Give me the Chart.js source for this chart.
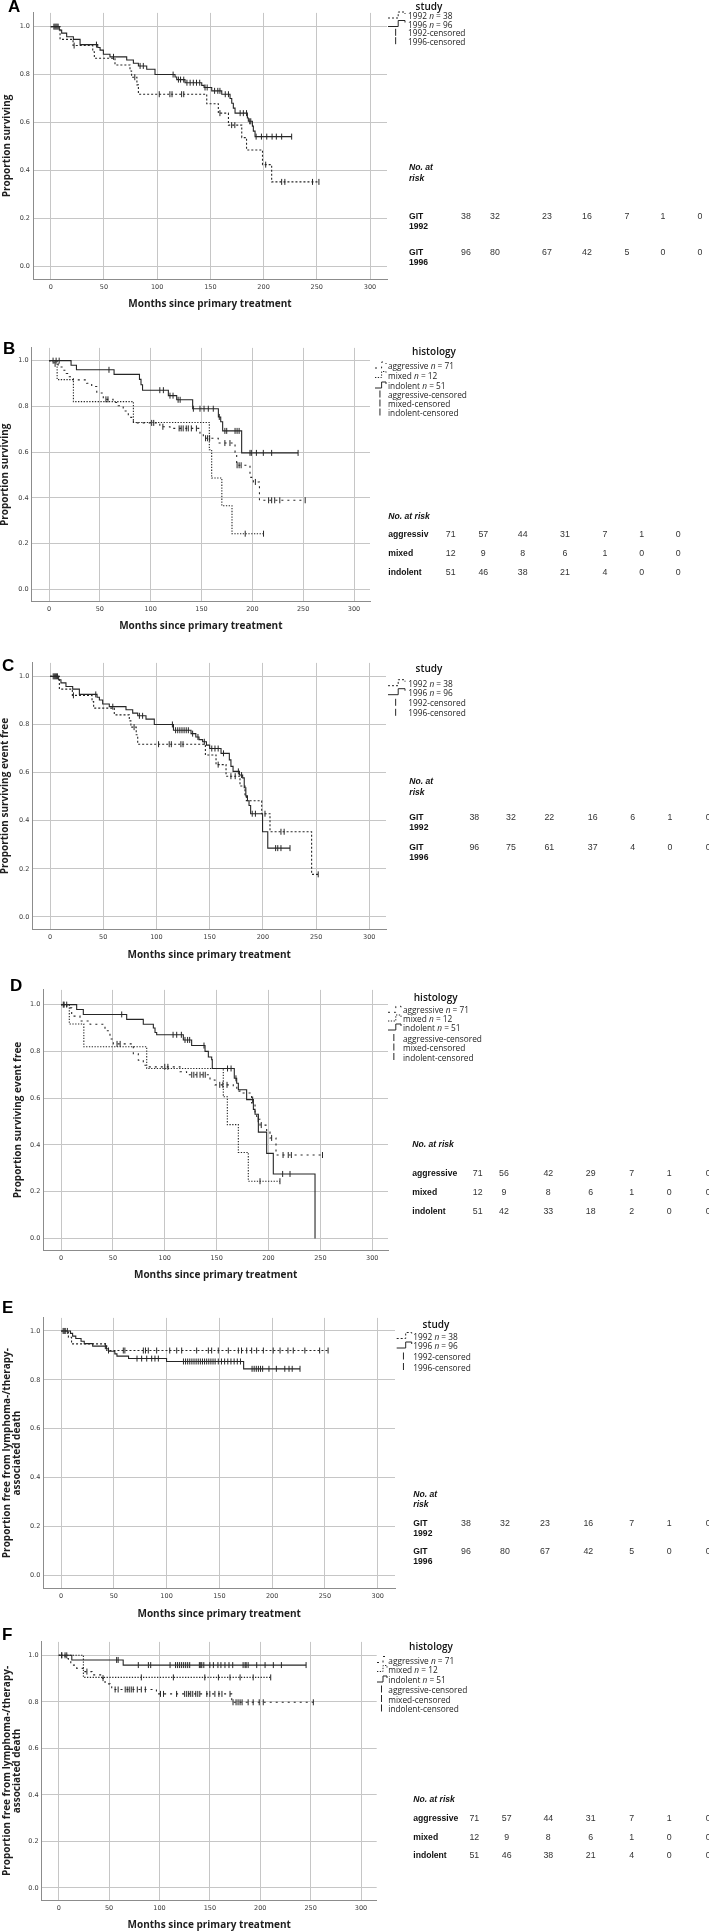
<!DOCTYPE html>
<html><head><meta charset="utf-8">
<script src="https://cdn.jsdelivr.net/npm/chart.js@4.4.1/dist/chart.umd.min.js"></script>
<style>
html,body{margin:0;padding:0;background:#fff}
body{width:709px;height:1931px;position:relative;overflow:hidden}
canvas{position:absolute;left:0}
.t{position:absolute;white-space:nowrap;line-height:1;transform:translateY(-50%);color:#1a1a1a}
</style></head><body>
<script>
// ---------------- DATA ----------------
const monthTicks=[0,50,100,150,200,250,300];
const propTicks=[0,0.2,0.4,0.6,0.8,1.0];

// A: overall survival by study
const A_1992_t=[8.8,21,39.5,41,60.4,74.5,76,81,82.4,146.6,157.5,167,179.5,184,199,207.6];
const A_1992_s=[0.947,0.921,0.895,0.868,0.84,0.815,0.789,0.757,0.718,0.678,0.639,0.589,0.537,0.485,0.424,0.352];
const A_1992_c=[4,6,22,79,102,112,114,123,125,159,170,173,202,217,220,246,252];
const A_1996_t=[8.1,10.3,15,21.3,27.6,44.2,46.4,49.5,55.7,71.4,77.7,82.4,90.2,98,116.8,118.4,126.2,141.9,144.1,151.3,160.7,168.5,170.1,171.6,173.2,184.8,185.7,189.5,190.4,192];
const A_1996_s=[0.986,0.973,0.958,0.947,0.925,0.913,0.902,0.885,0.874,0.861,0.847,0.836,0.822,0.80,0.79,0.779,0.766,0.755,0.746,0.732,0.718,0.70,0.68,0.66,0.639,0.619,0.605,0.585,0.564,0.541];
const A_1996_c=[3,5,7,43,59,84,87,115,120,122,125,128,131,134,137,140,145,147,154,157,159,164,167,178,181,184,187,188,193,198,203,208,212,217,226.4];
const A_risk_1992=[38,32,23,16,7,1,0];
const A_risk_1996=[96,80,67,42,5,0,0];

// B: overall survival by histology
const B_agg_t=[5,9,14,17,20,24,37,42,47,53.4,63,68,73,78,83,109,119,148.5,151.8,166.5,183,184.6,197.7,201,207];
const B_agg_s=[0.986,0.972,0.958,0.944,0.93,0.916,0.901,0.887,0.859,0.831,0.817,0.803,0.78,0.752,0.728,0.711,0.704,0.683,0.661,0.64,0.60,0.543,0.49,0.47,0.39];
const B_agg_c=[6,56,58,101,103,112,128,130,132,135,137,140,145,154,156,158,173,178,185,187,189,203,216,219,222,227,252];
const B_mix_t=[8,24,83,157.7,160,170,180];
const B_mix_s=[0.917,0.821,0.73,0.611,0.487,0.366,0.244];
const B_mix_c=[193,211];
const B_ind_t=[21.7,27,64,89,90.5,92,117.4,125.6,141.3,166.6,168.9,170.8,189.5];
const B_ind_s=[0.98,0.96,0.94,0.918,0.895,0.871,0.847,0.829,0.79,0.754,0.733,0.693,0.597];
const B_ind_c=[4,7,10,59,109,112.5,119,122,127,129,142,148.5,152.5,156.7,161.6,167.5,173,174.8,183,185,187,197.7,199,204,210.8,219,245];
const B_risk_agg=[71,57,44,31,7,1,0];
const B_risk_mix=[12,9,8,6,1,0,0];
const B_risk_ind=[51,46,38,21,4,0,0];

// C: event-free survival by study
const C_1992_t=[8.8,21,39.5,41,60.4,74.5,76,81,82.4,146,156,165.4,178.5,183.2,184.5,198.9,206.7,245.8];
const C_1992_s=[0.947,0.921,0.895,0.868,0.84,0.815,0.789,0.757,0.718,0.673,0.633,0.585,0.544,0.503,0.483,0.429,0.354,0.177];
const C_1992_c=[4,6,22,79,102,112,114,123,125,158,170,174,202,217,220,252];
const C_1996_t=[8.1,10.3,15,21.3,27.6,44.2,46.4,49.5,55.7,71.4,77.7,82.4,90.2,98,116,132.5,137,140,143.4,147,150,160.7,168.5,170,172,178,181,182.5,184,185.5,187,188.5,199.7,204.6];
const C_1996_s=[0.986,0.973,0.958,0.947,0.925,0.913,0.902,0.885,0.874,0.861,0.847,0.836,0.822,0.80,0.776,0.762,0.748,0.737,0.728,0.714,0.70,0.68,0.653,0.626,0.605,0.59,0.578,0.537,0.503,0.483,0.463,0.429,0.354,0.286];
const C_1996_c=[3,5,7,43,59,84,87,115,118,120,122,124,126,128,130,134,139,145,152,155,158,163,177,180,190,193,212,214,217,225.5];
const C_risk_1992=[38,32,22,16,6,1,0];
const C_risk_1996=[96,75,61,37,4,0,0];

// D: event-free survival by histology
const D_agg_t=[5.5,10.3,18.3,28,42.4,47.2,50.4,69.7,74.5,79.3,82.6,114.7,121,143.6,148.4,166,169.4,172.6,183.7,187,188.6,191.8,198.2,201.4,207.2];
const D_agg_s=[0.986,0.951,0.93,0.916,0.888,0.853,0.832,0.79,0.762,0.741,0.734,0.713,0.70,0.678,0.657,0.65,0.63,0.622,0.58,0.538,0.51,0.485,0.455,0.43,0.357];
const D_agg_c=[3,54,57,100,103,126,128,131,134,137,139,153,156,160,190,193,203,214,219,222,252];
const D_mix_t=[8,22,82.6,156.4,160.3,170.9,180.5];
const D_mix_s=[0.917,0.82,0.727,0.606,0.487,0.368,0.245];
const D_mix_c=[191.8,211];
const D_ind_t=[15.1,21.5,63.3,79.3,89,90.6,92.2,117.9,125.9,138.8,142,145.2,145.8,167,169.3,170.9,178.9,185.4,187,190.2,198.2,204.6,244.8];
const D_ind_s=[0.979,0.958,0.937,0.916,0.9,0.881,0.871,0.849,0.825,0.80,0.776,0.765,0.727,0.685,0.664,0.636,0.594,0.552,0.531,0.455,0.364,0.276,0];
const D_ind_c=[2.2,5.5,58.5,108,111.5,116,119.5,122,124,137.8,160.5,163.9,168.6,184.7,213.6,220.7];
const D_risk_agg=[71,56,42,29,7,1,0];
const D_risk_mix=[12,9,8,6,1,0,0];
const D_risk_ind=[51,42,33,18,2,0,0];

// E: freedom from lymphoma-/therapy-associated death by study
const E_1992_t=[7,10,43.3];
const E_1992_s=[0.974,0.947,0.92];
const E_1992_c=[3,45,59,60.5,78,80,82.7,90.6,103,109.6,114.3,128.5,139.6,142.7,149,158.5,168,171,175.9,180.6,185.3,191.7,201,207.5,215,220,231,245,253];
const E_1996_t=[9,11,14,19,22,30,43,45,51,53,64,100,173];
const E_1996_s=[0.99,0.979,0.969,0.958,0.948,0.938,0.927,0.917,0.906,0.897,0.887,0.875,0.845];
const E_1996_c=[2,4,6,42,72,76.4,81.2,85.9,89,92.2,116,118,120,122,124,126,128,130,132,134,136,138,140,142,144,146,149,152,155,158,161,164,167,170,181,183,185,187,189,191,197,204,212,216,219,226.4];
const E_risk_1992=[38,32,23,16,7,1,0];
const E_risk_1996=[96,80,67,42,5,0,0];

// F: freedom from lymphoma-/therapy-associated death by histology
const F_agg_t=[6.3,9.6,12,17.9,26,33,42.7,46,51,52.6,97,171.7];
const F_agg_s=[0.986,0.972,0.958,0.944,0.93,0.916,0.902,0.877,0.865,0.853,0.834,0.798];
const F_agg_c=[3,28,44,56,59,66,68,70,72,74,78,82,86,101,104,117,125,127,129,131,133,136,138,140,147,150,155,159,162,170,173,176,178,180,182,188,193,199,203,252.7];
const F_mix_t=[24.5];
const F_mix_s=[0.905];
const F_mix_c=[8,82,113.8,145,158.5,170,180,193,210.4];
const F_ind_t=[13,64];
const F_ind_s=[0.98,0.958];
const F_ind_c=[3,6.3,57.5,59,79,89,91.3,110.5,116,118,120,122,124,126,128,130,139.6,141,142,144,150,153.5,158,161,165,169,172.7,183,185,186,188,196.5,204.8,213,221,245.5];
const F_risk_agg=[71,57,44,31,7,1,0];
const F_risk_mix=[12,9,8,6,1,0,0];
const F_risk_ind=[51,46,38,21,4,0,0];

// ---------------- STYLE / LAYOUT ----------------
const INK='#262626';
const DASH={dot:[2,2],sparse:[2,4],dense:[1.3,1.5],solid:[]};
const studyLegend=['1992 <i>n</i> = 38','1996 <i>n</i> = 96','1992-censored','1996-censored'];
const histLegend=['aggressive <i>n</i> = 71','mixed <i>n</i> = 12','indolent <i>n</i> = 51','aggressive-censored','mixed-censored','indolent-censored'];

const panels=[
 {letter:'A',lp:[8,6.5],g:{gridTop:8,axisBottom:279,left:33,right:387,x0:50.7,x300:370,y1:22,y0:266,titleY:304,ytX:7},
  ytitle:'Proportion surviving',
  series:[{t:A_1992_t,s:A_1992_s,c:A_1992_c,d:'dot'},{t:A_1996_t,s:A_1996_s,c:A_1996_c,d:'solid'}],
  legend:{head:'study',hx:429,hy:6,items:studyLegend,styles:['dot','solid','cens','cens'],ys:[15,23.5,32.3,40.7],sx:388,sw:17,tx:408},
  table:{head:['No. at','risk'],hx:409,hy:[167,178],rowLab:['GIT<br>1992','GIT<br>1996'],rows:[A_risk_1992,A_risk_1996],ry:[216,252],cols:[466,495,547,587,627,663,700]}},
 {letter:'B',lp:[3,348.5],g:{gridTop:343,axisBottom:601.7,left:31.7,right:370,x0:49,x300:354,y1:356,y0:589.3,titleY:626,ytX:5},
  ytitle:'Proportion surviving',
  series:[{t:B_agg_t,s:B_agg_s,c:B_agg_c,d:'sparse'},{t:B_mix_t,s:B_mix_s,c:B_mix_c,d:'dense'},{t:B_ind_t,s:B_ind_s,c:B_ind_c,d:'solid'}],
  legend:{head:'histology',hx:434,hy:351,items:histLegend,styles:['sparse','dense','solid','cens','cens','cens'],ys:[365,374.5,385,394,403,412],sx:375,sw:11,tx:388},
  table:{head:['No. at risk'],hx:388.3,hy:[516],rowLab:['aggressiv','mixed','indolent'],rows:[B_risk_agg,B_risk_mix,B_risk_ind],ry:[534,552.7,571.7],cols:[450.7,483.3,522.7,565,605,641.7,678.3]}},
 {letter:'C',lp:[2,666],g:{gridTop:658,axisBottom:929.3,left:32.3,right:386,x0:50,x300:369.3,y1:671.7,y0:916.7,titleY:955,ytX:5},
  ytitle:'Proportion surviving event free',
  series:[{t:C_1992_t,s:C_1992_s,c:C_1992_c,d:'dot'},{t:C_1996_t,s:C_1996_s,c:C_1996_c,d:'solid'}],
  legend:{head:'study',hx:429,hy:668,items:studyLegend,styles:['dot','solid','cens','cens'],ys:[682.7,691.7,702.3,712.3],sx:388,sw:17,tx:408.3},
  table:{head:['No. at','risk'],hx:409.3,hy:[781,791.7],rowLab:['GIT<br>1992','GIT<br>1996'],rows:[C_risk_1992,C_risk_1996],ry:[816.7,846.7],cols:[474.3,511,549.3,592.7,632.7,670,708.3]}},
 {letter:'D',lp:[10,986],g:{gridTop:985,axisBottom:1250,left:43.3,right:388,x0:61,x300:372.3,y1:1000,y0:1238.3,titleY:1275,ytX:18.3},
  ytitle:'Proportion surviving event free',
  series:[{t:D_agg_t,s:D_agg_s,c:D_agg_c,d:'sparse'},{t:D_mix_t,s:D_mix_s,c:D_mix_c,d:'dense'},{t:D_ind_t,s:D_ind_s,c:D_ind_c,d:'solid'}],
  legend:{head:'histology',hx:435.7,hy:997,items:histLegend,styles:['sparse','dense','solid','cens','cens','cens'],ys:[1009.3,1018,1027,1037.5,1047,1056.5],sx:388,sw:13,tx:403},
  table:{head:['No. at risk'],hx:412.3,hy:[1144],rowLab:['aggressive','mixed','indolent'],rows:[D_risk_agg,D_risk_mix,D_risk_ind],ry:[1173.3,1191.7,1210.7],cols:[477.7,504,548.3,590.7,631.7,669.3,708.3]}},
 {letter:'E',lp:[2,1308],g:{gridTop:1313,axisBottom:1588.3,left:43.3,right:395,x0:61,x300:377.7,y1:1326.3,y0:1575,titleY:1614,ytX:6.7},
  ytitle:['Proportion free from lymphoma-/therapy-','associated death'],
  series:[{t:E_1992_t,s:E_1992_s,c:E_1992_c,d:'dot'},{t:E_1996_t,s:E_1996_s,c:E_1996_c,d:'solid'}],
  legend:{head:'study',hx:436,hy:1324,items:studyLegend,styles:['dot','solid','cens','cens'],ys:[1335.5,1345,1356,1366.5],sx:396.7,sw:15,tx:413.3},
  table:{head:['No. at','risk'],hx:413.3,hy:[1494.3,1504],rowLab:['GIT<br>1992','GIT<br>1996'],rows:[E_risk_1992,E_risk_1996],ry:[1523.3,1551],cols:[466,505,545,588.3,631.7,669.3,708.3]}},
 {letter:'F',lp:[2,1635],g:{gridTop:1637,axisBottom:1900.7,left:41.7,right:376.7,x0:58.7,x300:361,y1:1650.7,y0:1888.3,titleY:1925.7,ytX:6.7},
  ytitle:['Proportion free from lymphoma-/therapy-','associated death'],
  series:[{t:F_agg_t,s:F_agg_s,c:F_agg_c,d:'sparse'},{t:F_mix_t,s:F_mix_s,c:F_mix_c,d:'dense'},{t:F_ind_t,s:F_ind_s,c:F_ind_c,d:'solid'}],
  legend:{head:'histology',hx:431,hy:1646,items:histLegend,styles:['sparse','dense','solid','cens','cens','cens'],ys:[1659.5,1668.5,1679,1689,1698.5,1708],sx:377,sw:10,tx:388.3},
  table:{head:['No. at risk'],hx:413.3,hy:[1799.3],rowLab:['aggressive','mixed','indolent'],rows:[F_risk_agg,F_risk_mix,F_risk_ind],ry:[1818.3,1836.7,1855],cols:[474.3,506.7,548.3,590.7,631.7,669.3,708.3]}}
];

// ---------------- HELPERS ----------------
function T(x,y,html,css){
  const d=document.createElement('div');d.className='t';d.innerHTML=html;
  d.style.left=x+'px';d.style.top=y+'px';d.style.cssText+=css||'';
  document.body.appendChild(d);return d;
}
function kmLine(t,s,c){
  const pts=[{x:0,y:1}];
  for(let i=0;i<t.length;i++)pts.push({x:t[i],y:s[i]});
  const lc=c.length?c[c.length-1]:0;
  if(lc>t[t.length-1])pts.push({x:lc,y:s[s.length-1]});
  return pts;
}
function kmAt(t,s,x){let v=1;for(let i=0;i<t.length;i++){if(t[i]<=x)v=s[i];}return v;}
function censorPts(t,s,c){return c.map(x=>({x:x,y:kmAt(t,s,x)}));}

const legendSymbols={id:'kmLegend',afterDraw(chart,args,o){
  const ctx=chart.ctx;ctx.save();
  o.styles.forEach((st,i)=>{
    const y=o.ys[i]-o.top, x=o.sx, w=o.sw;
    ctx.strokeStyle=INK;ctx.lineWidth=1;
    if(st==='cens'){ctx.setLineDash([]);ctx.beginPath();ctx.moveTo(x+w*0.45,y-3.5);ctx.lineTo(x+w*0.45,y+3.5);ctx.stroke();}
    else{
      ctx.setLineDash(DASH[st]);ctx.beginPath();
      ctx.moveTo(x,y+3);ctx.lineTo(x+w*0.6,y+3);ctx.lineTo(x+w*0.6,y-3);ctx.lineTo(x+w,y-3);ctx.lineTo(x+w,y-1);ctx.stroke();
    }
  });
  ctx.restore();
}};

// ---------------- BUILD ----------------
panels.forEach(p=>{
  const g=p.g;
  const ctop=g.gridTop-2, cbot=g.titleY+8, H=cbot-ctop;
  const cv=document.createElement('canvas');cv.width=709;cv.height=H;cv.style.top=ctop+'px';
  document.body.appendChild(cv);
  const ppm=(g.x300-g.x0)/300, ppu=g.y0-g.y1;
  const xmin=-(g.x0-g.left)/ppm, xmax=(g.right-g.x0)/ppm;
  const ymax=1+(g.y1-g.gridTop)/ppu, ymin=-(g.axisBottom-g.y0)/ppu;
  const multi=Array.isArray(p.ytitle);
  const ylh=multi?10:12;
  const ds=[];
  p.series.forEach(sr=>{
    ds.push({type:'line',data:kmLine(sr.t,sr.s,sr.c),stepped:'before',borderColor:INK,borderWidth:1.1,borderDash:DASH[sr.d],pointRadius:0,fill:false,tension:0});
    ds.push({type:'scatter',data:censorPts(sr.t,sr.s,sr.c),showLine:false,pointStyle:'line',rotation:90,pointRadius:3,borderColor:INK,borderWidth:1,backgroundColor:INK});
  });
  const lg=Object.assign({},p.legend,{top:ctop});
  new Chart(cv,{
    data:{datasets:ds},
    plugins:[legendSymbols],
    options:{
      responsive:false,animation:false,devicePixelRatio:1,
      layout:{padding:{top:2,left:0,right:709-g.right,bottom:0}},
      plugins:{legend:{display:false},tooltip:{enabled:false},kmLegend:lg},
      scales:{
        x:{type:'linear',position:'bottom',min:xmin,max:xmax,
           afterBuildTicks:s=>{s.ticks=monthTicks.map(v=>({value:v}));},
           afterFit:s=>{s.height=cbot-g.axisBottom;},
           grid:{color:'#c6c6c6',lineWidth:1,drawTicks:false},
           border:{display:true,color:'#8c8c8c',width:1},
           ticks:{autoSkip:false,maxRotation:0,padding:4,color:'#3a3a3a',font:{family:'DejaVu Sans',size:6.5},callback:v=>String(v)},
           title:{display:true,text:'Months since primary treatment',color:'#1e1e1e',font:{family:'Open Sans',weight:'bold',size:10,lineHeight:1.2},padding:{top:0,bottom:2}}},
        y:{type:'linear',position:'left',min:ymin,max:ymax,
           afterBuildTicks:s=>{s.ticks=propTicks.map(v=>({value:v}));},
           afterFit:s=>{s.width=g.left;},
           grid:{color:'#c6c6c6',lineWidth:1,drawTicks:false},
           border:{display:true,color:'#8c8c8c',width:1},
           ticks:{padding:3,color:'#3a3a3a',font:{family:'DejaVu Sans',size:6.5},callback:v=>v.toFixed(1)},
           title:{display:true,text:p.ytitle,color:'#1e1e1e',font:{family:'Open Sans',weight:'bold',size:10,lineHeight:multi?1.0:1.2},padding:{top:g.ytX-ylh/2,bottom:0}}}
      }
    }
  });
  T(p.lp[0],p.lp[1],p.letter,'font:bold 17px "Liberation Sans",Arial,sans-serif;color:#000;');
  const L=p.legend;
  T(L.hx,L.hy,L.head,'font:600 10px "Open Sans",sans-serif;transform:translate(-50%,-50%);color:#111;');
  L.items.forEach((it,i)=>T(L.tx,L.ys[i],it,'font:8.3px "Open Sans",sans-serif;color:#222;'));
  const Tb=p.table;
  Tb.head.forEach((h,i)=>T(Tb.hx,Tb.hy[i],h,'font:italic bold 8.6px "Liberation Sans",Arial,sans-serif;color:#111;'));
  Tb.rowLab.forEach((lab,r)=>{
    const two=lab.indexOf('<br>')>=0;
    T(Tb.hx,Tb.ry[r],lab,'font:bold 8.6px "Liberation Sans",Arial,sans-serif;color:#111;line-height:10px;'+(two?'transform:translateY(-5px);':''));
    Tb.rows[r].forEach((v,k)=>T(Tb.cols[k],Tb.ry[r],String(v),'font:8.8px "Liberation Sans",Arial,sans-serif;color:#333;transform:translate(-50%,-50%);'));
  });
});
</script>
</body></html>
